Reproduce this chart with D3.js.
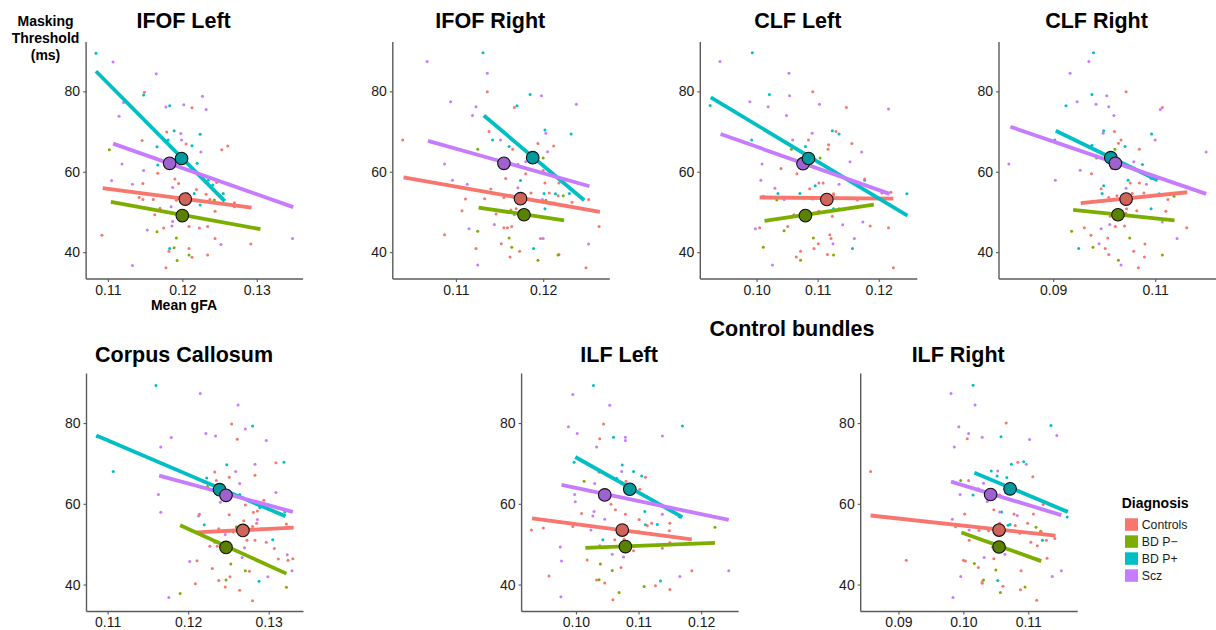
<!DOCTYPE html>
<html><head><meta charset="utf-8">
<script src="https://cdn.jsdelivr.net/npm/d3@7"></script>
<style>body{margin:0;background:#fff}svg{display:block}text{font-family:"Liberation Sans",Arial,sans-serif}</style>
</head><body><svg id="c" width="1216" height="630"></svg>
<script>
// ---- categories ----
const groups = ["Controls", "BD P\u2212", "BD P+", "Scz"];
const groupCodes = ["C", "N", "P", "S"];
const groupColors = ["#F8766D", "#7CAE00", "#00BFC4", "#C77CFF"];
const meanColors = ["#D0645B", "#5A8200", "#00999D", "#9E62D0"];
const panelTitles = ["IFOF Left", "IFOF Right", "CLF Left", "CLF Right", "Corpus Callosum", "ILF Left", "ILF Right"];
const yTicks = [40, 60, 80];
const xTicks = [[0.11, 0.12, 0.13], [0.11, 0.12], [0.10, 0.11, 0.12], [0.09, 0.11], [0.11, 0.12, 0.13], [0.10, 0.11, 0.12], [0.09, 0.10, 0.11]];

// ---- data: [gFA, threshold, group] ----
const ifofLeftPts = [[0.1084,89.5,"P"],[0.1107,87.3,"S"],[0.1165,84.4,"S"],[0.1149,79.8,"C"],[0.1148,79.1,"P"],[0.1121,77.2,"S"],[0.1115,73.8,"S"],[0.1178,76.1,"S"],[0.1183,76.4,"P"],[0.1202,76.7,"S"],[0.1213,75.9,"C"],[0.1227,78.8,"S"],[0.1232,75.5,"S"],[0.1146,67.8,"C"],[0.1166,66.2,"P"],[0.1179,69.9,"C"],[0.1181,67.9,"P"],[0.1189,70.2,"P"],[0.1198,69.5,"S"],[0.1199,67.9,"S"],[0.1205,66.9,"C"],[0.1213,66.5,"P"],[0.1224,69.3,"P"],[0.1225,64.9,"S"],[0.1253,65.5,"C"],[0.1261,66.4,"C"],[0.1102,65.5,"N"],[0.1119,61.9,"S"],[0.1167,61.7,"P"],[0.1167,59.6,"C"],[0.1148,60.3,"S"],[0.1105,57.8,"S"],[0.1147,57.1,"C"],[0.1133,56.9,"S"],[0.1190,58.2,"C"],[0.1187,56.1,"S"],[0.1195,57.1,"C"],[0.1220,62.1,"P"],[0.1235,57.9,"P"],[0.1241,56.7,"P"],[0.1246,57.3,"C"],[0.1255,54.6,"P"],[0.1216,54.6,"P"],[0.1219,55.6,"C"],[0.1207,54.6,"C"],[0.1142,53.6,"C"],[0.1147,53.1,"C"],[0.1161,53.1,"C"],[0.1170,50.9,"C"],[0.1185,51.3,"S"],[0.1192,52.9,"C"],[0.1201,53.7,"C"],[0.1206,54.5,"S"],[0.1232,54.4,"C"],[0.1237,53.1,"C"],[0.1270,52.3,"C"],[0.1270,51.3,"C"],[0.1224,51.7,"P"],[0.1243,53.0,"N"],[0.1244,50.2,"C"],[0.1163,49.3,"C"],[0.1187,47.6,"S"],[0.1197,47.8,"S"],[0.1175,46.0,"C"],[0.1186,46.5,"S"],[0.1209,46.4,"C"],[0.1223,46.0,"C"],[0.1234,46.4,"C"],[0.1153,45.5,"S"],[0.1166,45.1,"N"],[0.1092,44.2,"C"],[0.1192,43.5,"N"],[0.1244,43.4,"C"],[0.1252,41.9,"S"],[0.1292,42.0,"C"],[0.1348,43.4,"S"],[0.1183,40.9,"P"],[0.1182,40.2,"C"],[0.1189,41.1,"N"],[0.1209,40.9,"C"],[0.1213,38.7,"C"],[0.1209,39.3,"N"],[0.1234,39.3,"C"],[0.1193,37.9,"N"],[0.1133,36.7,"S"],[0.1178,36.1,"C"]];
const ifofRightPts = [[0.1131,89.6,"P"],[0.1067,87.4,"S"],[0.1136,84.5,"S"],[0.1136,79.9,"C"],[0.1185,79.2,"P"],[0.1198,78.9,"S"],[0.1094,77.4,"S"],[0.1123,76.2,"S"],[0.1170,76.4,"P"],[0.1167,76.0,"C"],[0.1119,74.0,"S"],[0.1238,76.8,"S"],[0.1232,69.4,"P"],[0.1138,70.0,"C"],[0.1142,67.9,"P"],[0.1151,67.9,"S"],[0.1202,70.4,"P"],[0.1203,69.6,"S"],[0.1039,67.9,"C"],[0.1125,65.6,"N"],[0.1161,66.3,"P"],[0.1165,65.6,"C"],[0.1194,67.0,"C"],[0.1212,66.4,"C"],[0.1205,65.0,"S"],[0.1200,63.4,"N"],[0.1087,61.9,"S"],[0.1171,61.8,"P"],[0.1180,62.5,"S"],[0.1096,57.9,"S"],[0.1113,56.9,"S"],[0.1157,58.3,"C"],[0.1174,57.8,"P"],[0.1180,59.5,"C"],[0.1200,60.3,"C"],[0.1202,57.2,"C"],[0.1218,57.2,"C"],[0.1171,56.0,"S"],[0.1111,53.2,"C"],[0.1133,53.3,"C"],[0.1155,53.6,"C"],[0.1140,55.7,"C"],[0.1186,54.7,"C"],[0.1201,54.6,"P"],[0.1207,54.7,"C"],[0.1214,54.5,"P"],[0.1217,54.0,"C"],[0.1223,54.0,"N"],[0.1230,54.6,"P"],[0.1199,53.1,"S"],[0.1203,52.9,"N"],[0.1213,52.2,"C"],[0.1233,52.4,"C"],[0.1252,53.1,"C"],[0.1107,50.3,"C"],[0.1169,50.8,"C"],[0.1163,50.5,"C"],[0.1146,49.5,"C"],[0.1167,49.3,"S"],[0.1202,50.8,"P"],[0.1144,46.9,"S"],[0.1087,44.3,"C"],[0.1115,45.8,"S"],[0.1125,45.2,"N"],[0.1155,46.1,"C"],[0.1159,46.1,"C"],[0.1164,46.4,"C"],[0.1161,43.5,"N"],[0.1152,42.1,"C"],[0.1164,41.2,"N"],[0.1197,43.4,"C"],[0.1200,43.4,"S"],[0.1123,40.9,"C"],[0.1189,40.9,"P"],[0.1173,40.2,"C"],[0.1162,38.8,"C"],[0.1252,42.0,"S"],[0.1218,39.4,"C"],[0.1217,39.3,"N"],[0.1194,38.0,"N"],[0.1125,36.8,"S"],[0.1249,36.1,"C"],[0.1264,46.4,"C"]];
const clfLeftPts = [[0.0993,89.6,"P"],[0.0940,87.4,"S"],[0.1053,84.5,"S"],[0.1092,79.9,"C"],[0.1021,79.2,"P"],[0.1054,78.9,"S"],[0.0989,77.4,"S"],[0.1019,76.2,"S"],[0.1103,76.8,"S"],[0.1147,76.0,"C"],[0.1049,74.0,"S"],[0.1216,75.6,"S"],[0.0924,76.5,"P"],[0.1135,69.4,"P"],[0.1130,70.0,"C"],[0.1124,70.2,"P"],[0.0992,67.9,"P"],[0.1059,67.9,"S"],[0.1085,67.9,"C"],[0.1091,69.6,"S"],[0.1080,66.3,"P"],[0.1057,65.6,"N"],[0.1117,65.6,"C"],[0.1118,66.7,"C"],[0.1156,67.0,"C"],[0.1172,64.9,"S"],[0.1104,63.4,"N"],[0.1009,61.9,"S"],[0.1153,62.5,"S"],[0.1040,60.8,"C"],[0.1007,57.9,"S"],[0.1066,59.5,"C"],[0.1087,55.8,"C"],[0.1096,56.5,"P"],[0.1102,57.2,"C"],[0.1109,57.2,"C"],[0.1135,56.9,"S"],[0.1177,57.9,"P"],[0.1177,58.2,"C"],[0.1030,55.9,"S"],[0.1035,54.6,"P"],[0.1071,54.6,"P"],[0.1011,53.9,"C"],[0.1033,53.0,"N"],[0.1045,53.1,"S"],[0.1092,53.2,"C"],[0.1126,54.3,"C"],[0.1126,54.5,"C"],[0.1165,53.0,"C"],[0.1205,54.7,"C"],[0.1220,54.9,"C"],[0.1246,54.5,"P"],[0.1126,50.8,"P"],[0.1135,50.8,"C"],[0.1102,50.2,"C"],[0.1061,49.3,"C"],[0.1077,50.4,"C"],[0.1124,48.9,"C"],[0.0998,45.8,"S"],[0.1005,46.1,"C"],[0.1045,45.3,"N"],[0.1051,46.4,"C"],[0.1141,46.8,"S"],[0.1174,47.5,"S"],[0.1186,46.5,"C"],[0.1216,46.1,"C"],[0.1120,44.3,"C"],[0.1122,43.4,"C"],[0.1160,43.4,"S"],[0.1093,43.5,"N"],[0.1125,42.1,"S"],[0.1101,42.1,"C"],[0.1094,40.9,"C"],[0.1157,40.9,"P"],[0.1011,41.2,"N"],[0.1072,40.2,"C"],[0.1116,39.4,"C"],[0.1126,39.3,"N"],[0.1065,38.8,"C"],[0.1072,38.0,"N"],[0.1026,36.8,"S"],[0.1224,36.1,"C"]];
const clfRightPts = [[0.0979,89.6,"P"],[0.0970,87.4,"S"],[0.0933,84.5,"S"],[0.1043,79.9,"C"],[0.0976,79.2,"P"],[0.1005,78.9,"S"],[0.0947,77.4,"S"],[0.0984,76.8,"S"],[0.0925,76.4,"P"],[0.1009,76.2,"S"],[0.1114,76.0,"C"],[0.1110,75.5,"S"],[0.1019,74.0,"S"],[0.0999,70.2,"P"],[0.0998,69.6,"S"],[0.1020,70.0,"C"],[0.1093,69.4,"P"],[0.1100,67.9,"S"],[0.1033,67.9,"C"],[0.0903,67.9,"P"],[0.1028,67.1,"C"],[0.0976,66.6,"P"],[0.1041,66.3,"P"],[0.1021,65.6,"N"],[0.1069,65.6,"C"],[0.1200,64.9,"S"],[0.0985,63.4,"N"],[0.1058,62.5,"S"],[0.1075,61.8,"P"],[0.0813,61.9,"S"],[0.0953,60.4,"S"],[0.0975,59.5,"C"],[0.1015,60.8,"C"],[0.1104,58.3,"P"],[0.1092,58.3,"C"],[0.0904,57.9,"S"],[0.1047,57.9,"P"],[0.1051,57.2,"C"],[0.1069,57.2,"C"],[0.1083,56.9,"S"],[0.1043,55.9,"S"],[0.0999,56.5,"P"],[0.0994,55.8,"C"],[0.0996,54.6,"P"],[0.1009,53.6,"C"],[0.1025,54.0,"C"],[0.1036,53.6,"C"],[0.1055,54.6,"C"],[0.1075,53.9,"C"],[0.1078,54.7,"C"],[0.1108,54.5,"P"],[0.1137,53.9,"N"],[0.1125,53.1,"C"],[0.1043,52.1,"C"],[0.1092,50.8,"P"],[0.1044,50.8,"C"],[0.1064,50.3,"C"],[0.1121,50.2,"C"],[0.1012,48.9,"C"],[0.1042,49.7,"C"],[0.1011,46.9,"S"],[0.0994,45.8,"S"],[0.0961,46.1,"C"],[0.1022,46.4,"C"],[0.1040,46.5,"C"],[0.1162,46.1,"C"],[0.1114,47.5,"S"],[0.0936,45.2,"N"],[0.0974,44.2,"C"],[0.1007,43.5,"C"],[0.1050,43.5,"N"],[0.1143,43.4,"S"],[0.0990,42.1,"S"],[0.1080,42.0,"C"],[0.1002,40.9,"C"],[0.0950,40.9,"P"],[0.0978,41.2,"N"],[0.1058,40.2,"C"],[0.1009,39.4,"C"],[0.1079,38.8,"C"],[0.1114,39.3,"N"],[0.1028,38.0,"N"],[0.1033,36.8,"S"],[0.1067,36.1,"C"]];
const ccPts = [[0.1160,89.3,"P"],[0.1215,87.3,"S"],[0.1262,84.5,"S"],[0.1254,79.8,"C"],[0.1280,79.3,"P"],[0.1179,76.4,"S"],[0.1222,77.4,"S"],[0.1234,76.8,"S"],[0.1271,78.5,"S"],[0.1261,76.0,"C"],[0.1297,75.7,"S"],[0.1087,76.6,"P"],[0.1166,74.1,"S"],[0.1107,68.0,"P"],[0.1248,69.7,"P"],[0.1283,69.8,"S"],[0.1309,70.2,"C"],[0.1319,70.3,"P"],[0.1233,67.9,"C"],[0.1259,68.0,"S"],[0.1283,67.1,"C"],[0.1251,66.6,"C"],[0.1223,66.4,"P"],[0.1235,65.8,"C"],[0.1264,65.0,"S"],[0.1163,62.3,"S"],[0.1224,64.3,"N"],[0.1240,60.4,"S"],[0.1264,62.3,"P"],[0.1309,62.8,"S"],[0.1271,59.7,"C"],[0.1294,60.9,"C"],[0.1166,57.9,"S"],[0.1214,57.4,"C"],[0.1251,57.3,"C"],[0.1281,57.9,"C"],[0.1289,59.0,"P"],[0.1286,58.2,"C"],[0.1213,57.0,"S"],[0.1320,58.0,"P"],[0.1328,58.1,"S"],[0.1286,56.1,"S"],[0.1285,55.2,"C"],[0.1269,55.8,"C"],[0.1220,54.8,"P"],[0.1260,54.3,"C"],[0.1260,54.1,"N"],[0.1269,54.6,"P"],[0.1238,53.8,"C"],[0.1256,53.0,"C"],[0.1280,54.4,"C"],[0.1291,53.8,"C"],[0.1303,53.8,"C"],[0.1322,55.0,"C"],[0.1246,52.4,"S"],[0.1270,52.8,"C"],[0.1273,51.0,"C"],[0.1283,51.0,"C"],[0.1305,51.1,"P"],[0.1297,50.5,"C"],[0.1233,50.5,"C"],[0.1227,49.5,"C"],[0.1236,49.5,"C"],[0.1246,50.0,"C"],[0.1307,48.9,"C"],[0.1270,49.1,"S"],[0.1267,46.7,"S"],[0.1312,46.3,"C"],[0.1323,47.4,"S"],[0.1324,46.0,"C"],[0.1330,46.4,"C"],[0.1202,45.7,"S"],[0.1211,45.9,"C"],[0.1253,45.1,"N"],[0.1230,44.0,"C"],[0.1271,43.4,"N"],[0.1276,43.3,"C"],[0.1329,43.4,"S"],[0.1252,41.9,"C"],[0.1247,41.1,"N"],[0.1238,41.0,"C"],[0.1288,40.8,"P"],[0.1299,41.9,"S"],[0.1209,40.2,"C"],[0.1246,39.4,"C"],[0.1264,38.6,"C"],[0.1322,39.3,"N"],[0.1190,37.8,"N"],[0.1176,36.8,"S"],[0.1280,36.0,"C"]];
const ilfLeftPts = [[0.1028,89.3,"P"],[0.0995,87.1,"S"],[0.1054,84.4,"S"],[0.1044,79.8,"C"],[0.1170,79.3,"P"],[0.0988,79.1,"S"],[0.1002,77.4,"S"],[0.1138,76.8,"S"],[0.1060,76.5,"P"],[0.1079,76.5,"S"],[0.1079,75.7,"S"],[0.1038,76.1,"C"],[0.1033,74.1,"S"],[0.0997,70.3,"P"],[0.1074,69.6,"P"],[0.1092,68.0,"P"],[0.1073,68.0,"S"],[0.1037,67.8,"C"],[0.1105,66.9,"P"],[0.1111,66.6,"C"],[0.1013,65.6,"N"],[0.1065,66.3,"P"],[0.1080,65.6,"C"],[0.1102,63.6,"C"],[0.1030,65.0,"S"],[0.0998,62.3,"S"],[0.0999,60.5,"S"],[0.1056,59.9,"C"],[0.1063,58.5,"C"],[0.1110,58.1,"P"],[0.1009,57.6,"C"],[0.1029,58.1,"S"],[0.1079,57.4,"C"],[0.1027,57.0,"S"],[0.1101,56.1,"C"],[0.1046,56.2,"S"],[0.1138,57.4,"S"],[0.1165,56.8,"P"],[0.1167,56.7,"P"],[0.1121,55.2,"C"],[0.1130,54.9,"P"],[0.1150,55.2,"C"],[0.1111,54.8,"P"],[0.1114,54.6,"C"],[0.0929,53.5,"C"],[0.0948,54.0,"C"],[0.0995,54.4,"C"],[0.1024,53.5,"S"],[0.1101,53.1,"N"],[0.1119,52.7,"C"],[0.1149,53.3,"C"],[0.1222,54.2,"N"],[0.1038,49.6,"C"],[0.1043,51.1,"P"],[0.1062,51.1,"C"],[0.1077,51.2,"C"],[0.1092,48.4,"C"],[0.1138,49.0,"C"],[0.1150,50.4,"C"],[0.0975,49.3,"S"],[0.0977,45.8,"S"],[0.1018,46.1,"C"],[0.1058,47.5,"S"],[0.1076,46.8,"S"],[0.1039,45.1,"N"],[0.1072,44.2,"C"],[0.1058,43.5,"N"],[0.0957,42.1,"C"],[0.1185,43.4,"C"],[0.1244,43.4,"S"],[0.1166,42.0,"S"],[0.1033,41.1,"C"],[0.1037,41.2,"N"],[0.1046,40.4,"C"],[0.1135,40.9,"P"],[0.1109,39.5,"N"],[0.1127,39.7,"C"],[0.1150,38.8,"C"],[0.1069,38.0,"N"],[0.0976,37.0,"S"],[0.1059,36.2,"C"]];
const ilfRightPts = [[0.1015,89.4,"P"],[0.0981,87.3,"S"],[0.1018,84.5,"S"],[0.1066,80.0,"C"],[0.1135,79.4,"P"],[0.0993,79.1,"S"],[0.1008,77.4,"S"],[0.1144,76.9,"S"],[0.1058,76.6,"P"],[0.1029,76.5,"S"],[0.1006,76.1,"C"],[0.1102,75.9,"S"],[0.0986,74.1,"S"],[0.1074,69.8,"P"],[0.1084,70.3,"C"],[0.1093,70.4,"P"],[0.1097,69.8,"S"],[0.1043,68.1,"P"],[0.1053,68.1,"S"],[0.1107,66.7,"C"],[0.0996,65.8,"N"],[0.1008,65.8,"C"],[0.1052,66.9,"P"],[0.1067,66.5,"P"],[0.1031,65.1,"S"],[0.1023,63.7,"C"],[0.0995,62.3,"S"],[0.1015,62.2,"P"],[0.1037,60.6,"S"],[0.1056,62.2,"C"],[0.1065,62.8,"S"],[0.1123,59.8,"C"],[0.0983,56.2,"S"],[0.1002,57.5,"C"],[0.1047,58.5,"C"],[0.1059,58.0,"P"],[0.1056,58.0,"S"],[0.1078,57.5,"C"],[0.1083,57.1,"S"],[0.1099,55.2,"C"],[0.1108,57.5,"C"],[0.1069,54.7,"P"],[0.1072,54.9,"P"],[0.1080,54.6,"C"],[0.1056,55.2,"C"],[0.1112,54.2,"N"],[0.1119,53.2,"N"],[0.0988,54.3,"C"],[0.1009,53.5,"S"],[0.1024,53.4,"C"],[0.1039,53.3,"C"],[0.1078,53.3,"S"],[0.1087,52.7,"C"],[0.1120,53.1,"C"],[0.1128,51.0,"C"],[0.1122,51.0,"P"],[0.1141,51.4,"C"],[0.1009,51.0,"C"],[0.1104,50.5,"C"],[0.1114,49.6,"C"],[0.1045,49.3,"S"],[0.1064,47.5,"S"],[0.1032,46.7,"S"],[0.1047,46.4,"C"],[0.1129,46.5,"C"],[0.1000,46.0,"C"],[0.1003,45.8,"C"],[0.0912,46.0,"C"],[0.1017,45.2,"N"],[0.1023,44.2,"C"],[0.1089,43.4,"C"],[0.1050,43.6,"N"],[0.0996,42.0,"S"],[0.1137,42.0,"S"],[0.1151,43.4,"S"],[0.1160,56.7,"P"],[0.1031,41.1,"N"],[0.1029,40.7,"C"],[0.1029,40.3,"C"],[0.1053,41.0,"P"],[0.1061,39.6,"C"],[0.1095,39.4,"N"],[0.1088,38.7,"C"],[0.1057,38.0,"N"],[0.0984,36.8,"S"],[0.1113,36.1,"C"],[0.0857,68.0,"C"]];

// ---- fitted lines: [group, x1, y1, x2, y2] ----
const ifofLeftFits = [["C",0.1093,55.9,0.1293,51.1],["N",0.1104,52.5,0.1305,45.7],["P",0.1084,85.0,0.1257,52.7],["S",0.1107,67.0,0.1349,51.2]];
const ifofRightFits = [["C",0.1040,58.6,0.1265,50.0],["N",0.1126,51.1,0.1224,47.9],["P",0.1132,74.0,0.1247,52.9],["S",0.1068,67.7,0.1253,56.4]];
const clfLeftFits = [["C",0.1005,53.6,0.1224,53.3],["N",0.1013,47.8,0.1192,51.8],["P",0.0925,78.5,0.1247,49.1],["S",0.0941,69.4,0.1218,54.5]];
const clfRightFits = [["C",0.0954,52.2,0.1163,54.9],["N",0.0939,50.5,0.1138,47.9],["P",0.0905,70.2,0.1105,57.9],["S",0.0816,71.2,0.1200,54.5]];
const ccFits = [["C",0.1210,52.9,0.1331,54.1],["N",0.1190,54.7,0.1322,42.7],["P",0.1086,76.9,0.1321,56.9],["S",0.1164,67.0,0.1330,58.0]];
const ilfLeftFits = [["C",0.0930,56.4,0.1185,51.2],["N",0.1015,49.1,0.1222,50.3],["P",0.0999,71.6,0.1170,56.7],["S",0.0977,64.7,0.1244,56.0]];
const ilfRightFits = [["C",0.0857,57.1,0.1142,52.1],["N",0.0997,52.9,0.1120,45.8],["P",0.1017,67.7,0.1161,58.0],["S",0.0981,65.5,0.1151,57.2]];

// ---- group means: [group, x, y] ----
const ifofLeftMeans = [["S",0.1183,62.1],["P",0.1199,63.3],["C",0.1204,53.2],["N",0.1200,49.1]];
const ifofRightMeans = [["S",0.1155,62.1],["P",0.1188,63.5],["C",0.1174,53.3],["N",0.1178,49.3]];
const clfLeftMeans = [["S",0.1076,62.0],["P",0.1085,63.3],["C",0.1115,53.1],["N",0.1080,49.1]];
const clfRightMeans = [["P",0.1013,63.5],["S",0.1022,62.1],["C",0.1043,53.2],["N",0.1027,49.3]];
const ccMeans = [["P",0.1239,63.5],["S",0.1247,62.1],["C",0.1268,53.4],["N",0.1247,49.2]];
const ilfLeftMeans = [["S",0.1046,62.2],["P",0.1086,63.6],["C",0.1074,53.5],["N",0.1079,49.4]];
const ilfRightMeans = [["S",0.1042,62.3],["P",0.1072,63.7],["C",0.1055,53.5],["N",0.1055,49.3]];

// ---- layout (pixels) ----
const layout = [
  {l: 86.1, t: 42, w: 217, h: 237},
  {l: 392.8, t: 42, w: 217, h: 237},
  {l: 700.3, t: 42, w: 217, h: 237},
  {l: 999, t: 42, w: 217, h: 237},
  {l: 86.5, t: 373.5, w: 217, h: 238},
  {l: 521.6, t: 373.5, w: 217, h: 238},
  {l: 860.7, t: 373.5, w: 217, h: 238}
];
const pointSets = [ifofLeftPts, ifofRightPts, clfLeftPts, clfRightPts, ccPts, ilfLeftPts, ilfRightPts];
const fitSets = [ifofLeftFits, ifofRightFits, clfLeftFits, clfRightFits, ccFits, ilfLeftFits, ilfRightFits];
const meanSets = [ifofLeftMeans, ifofRightMeans, clfLeftMeans, clfRightMeans, ccMeans, ilfLeftMeans, ilfRightMeans];

const FONT = '"Liberation Sans", Arial, sans-serif';
const gi = c => groupCodes.indexOf(c);
const svg = d3.select("#c");

// shared y domain with 5% expansion
const allY = pointSets.flat().map(d => d[1]);
const yMin = d3.min(allY), yMax = d3.max(allY), yPad = (yMax - yMin) * 0.05;
const yDomain = [yMin - yPad, yMax + yPad];

pointSets.forEach((pts, i) => {
  const L = layout[i];
  const xs = pts.map(d => d[0]).concat(fitSets[i].flatMap(f => [f[1], f[3]]));
  const xmn = d3.min(xs), xmx = d3.max(xs), xp = (xmx - xmn) * 0.05;
  const x = d3.scaleLinear().domain([xmn - xp, xmx + xp]).range([L.l, L.l + L.w]);
  const y = d3.scaleLinear().domain(yDomain).range([L.t + L.h, L.t]);
  const g = svg.append("g");

  // axes
  const xa = g.append("g").attr("transform", `translate(0,${L.t + L.h})`)
    .call(d3.axisBottom(x).tickValues(xTicks[i]).tickFormat(d3.format(".2f")).tickSize(3).tickPadding(3));
  const ya = g.append("g").attr("transform", `translate(${L.l},0)`)
    .call(d3.axisLeft(y).tickValues(yTicks).tickSize(3).tickPadding(3));
  [xa, ya].forEach(a => {
    a.select(".domain").attr("stroke", "#5a5a5a").attr("stroke-width", 1.4)
      .attr("d", a === xa ? `M${L.l},0H${L.l + L.w}` : `M0,${L.t}V${L.t + L.h}`);
    a.selectAll(".tick line").attr("stroke", "#5a5a5a").attr("stroke-width", 1.1);
    a.selectAll("text").attr("font-family", FONT).attr("font-size", 14).attr("fill", "#1a1a1a");
  });

  // points
  g.append("g").selectAll("circle").data(pts).join("circle")
    .attr("cx", d => x(d[0])).attr("cy", d => y(d[1])).attr("r", 1.5)
    .attr("fill", d => groupColors[gi(d[2])]);

  // fitted lines
  g.append("g").selectAll("line").data(fitSets[i]).join("line")
    .attr("x1", d => x(d[1])).attr("y1", d => y(d[2]))
    .attr("x2", d => x(d[3])).attr("y2", d => y(d[4]))
    .attr("stroke", d => groupColors[gi(d[0])]).attr("stroke-width", 3.8);

  // means
  g.append("g").selectAll("circle").data(meanSets[i]).join("circle")
    .attr("cx", d => x(d[1])).attr("cy", d => y(d[2])).attr("r", 6.3)
    .attr("fill", d => meanColors[gi(d[0])]).attr("stroke", "#111").attr("stroke-width", 1.1);

  // title
  svg.append("text").attr("x", L.l + L.w / 2 - 11).attr("y", i < 4 ? 28 : 361.7)
    .attr("text-anchor", "middle").attr("font-family", FONT).attr("font-weight", "bold")
    .attr("font-size", 21.5).attr("fill", "#000").text(panelTitles[i]);
});

// axis labels on first panel
const yl = svg.append("text").attr("font-family", FONT).attr("font-weight", "bold").attr("font-size", 14)
  .attr("text-anchor", "middle").attr("fill", "#000");
["Masking", "Threshold", "(ms)"].forEach((t, k) => yl.append("tspan").attr("x", 45.5).attr("y", 25.5 + k * 17).text(t));
svg.append("text").attr("x", 184).attr("y", 310).attr("text-anchor", "middle")
  .attr("font-family", FONT).attr("font-weight", "bold").attr("font-size", 14).text("Mean gFA");

svg.append("text").attr("x", 792).attr("y", 336).attr("text-anchor", "middle")
  .attr("font-family", FONT).attr("font-weight", "bold").attr("font-size", 21.5).text("Control bundles");

// legend
const lg = svg.append("g");
lg.append("text").attr("x", 1121.7).attr("y", 508.3).attr("font-family", FONT)
  .attr("font-weight", "bold").attr("font-size", 14).text("Diagnosis");
groups.forEach((name, k) => {
  lg.append("rect").attr("x", 1125).attr("y", 518.3 + k * 17).attr("width", 13).attr("height", 12.5)
    .attr("fill", groupColors[k]);
  lg.append("text").attr("x", 1141.7).attr("y", 528.8 + k * 17).attr("font-family", FONT)
    .attr("font-size", 12.3).attr("fill", "#1a1a1a").text(name);
});
</script></body></html>
